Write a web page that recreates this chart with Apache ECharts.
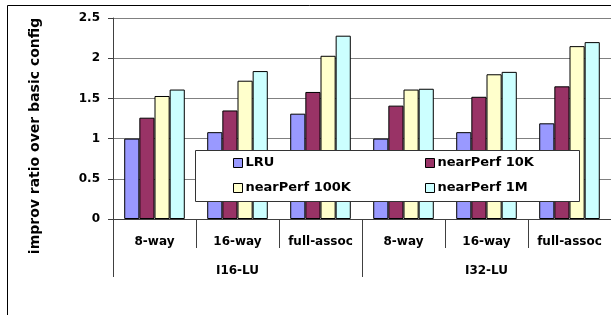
<!DOCTYPE html>
<html>
<head>
<meta charset="utf-8">
<script src="https://cdn.jsdelivr.net/npm/echarts@6/dist/echarts.min.js"></script>
<style>html,body{margin:0;padding:0;background:#fff}#c{width:611px;height:315px}</style>
</head>
<body>
<div id="c"></div>
<script>
var subCategories = ['8-way', '16-way', 'full-assoc', '8-way', '16-way', 'full-assoc'];
var groups = ['I16-LU', 'I32-LU'];
var seriesNames = ['LRU', 'nearPerf 10K', 'nearPerf 100K', 'nearPerf 1M'];
var lru = [1.0, 1.08, 1.31, 1.0, 1.08, 1.19];
var near10k = [1.26, 1.35, 1.58, 1.41, 1.52, 1.65];
var near100k = [1.53, 1.72, 2.03, 1.61, 1.80, 2.15];
var near1m = [1.61, 1.84, 2.28, 1.62, 1.83, 2.20];
var yTicks = [0, 0.5, 1, 1.5, 2, 2.5];
var yTitle = 'improv ratio over basic config';
var colors = ['#9999FF', '#993366', '#FFFFCC', '#CCFFFF'];

var FONT = 'DejaVu Sans';
var chart = echarts.init(document.getElementById('c'), null, {renderer: 'canvas'});
var values = [lru, near10k, near100k, near1m];
var series = seriesNames.map(function (n, i) {
  return {
    name: n, type: 'bar', xAxisIndex: 0, data: values[i],
    barGap: '0%', barCategoryGap: '27%',
    itemStyle: {color: colors[i], borderColor: '#000', borderWidth: 1},
    animation: false
  };
});
chart.setOption({
  animation: false,
  grid: {left: 113, top: 18, right: -2, bottom: 96, containLabel: false},
  xAxis: [{
    type: 'category', data: subCategories, position: 'bottom',
    axisLine: {show: true, lineStyle: {color: '#404040', width: 1}},
    axisTick: {show: true, length: 29, interval: 0, lineStyle: {color: '#404040'}},
    axisLabel: {interval: 0, margin: 17, color: '#000', fontFamily: FONT, fontWeight: 'bold', fontSize: 12}
  }, {
    type: 'category', data: groups, position: 'bottom',
    axisLine: {show: false},
    axisTick: {show: true, length: 58, interval: 0, lineStyle: {color: '#404040'}},
    axisLabel: {interval: 0, margin: 46, color: '#000', fontFamily: FONT, fontWeight: 'bold', fontSize: 12}
  }],
  yAxis: {
    type: 'value', min: yTicks[0], max: yTicks[yTicks.length - 1], interval: 0.5,
    axisLine: {show: true, lineStyle: {color: '#404040', width: 1}},
    axisTick: {show: true, length: 5, lineStyle: {color: '#404040'}},
    axisLabel: {margin: 13, color: '#000', fontFamily: FONT, fontWeight: 'bold', fontSize: 12,
      formatter: function (v) { return String(v); }},
    splitLine: {show: true, lineStyle: {color: '#808080', width: 1}}
  },
  legend: [{
    data: [seriesNames[0], seriesNames[2]], orient: 'vertical', left: 233, top: 156, padding: 0,
    itemGap: 11, itemWidth: 9, itemHeight: 9, icon: 'rect', z: 10,
    itemStyle: {borderColor: '#000', borderWidth: 1},
    textStyle: {color: '#000', fontFamily: FONT, fontWeight: 'bold', fontSize: 13, lineHeight: 14, padding: [0, 0, 0, -2]}
  }, {
    data: [seriesNames[1], seriesNames[3]], orient: 'vertical', left: 425, top: 156, padding: 0,
    itemGap: 11, itemWidth: 9, itemHeight: 9, icon: 'rect', z: 10,
    itemStyle: {borderColor: '#000', borderWidth: 1},
    textStyle: {color: '#000', fontFamily: FONT, fontWeight: 'bold', fontSize: 13, lineHeight: 14, padding: [0, 0, 0, -2]}
  }],
  graphic: [{
    type: 'rect', z: -10, silent: true,
    shape: {x: 7.5, y: 5.5, width: 700, height: 400},
    style: {fill: 'none', stroke: '#000', lineWidth: 1}
  }, {
    type: 'rect', z: 5, silent: true,
    shape: {x: 195.5, y: 150.5, width: 384, height: 51},
    style: {fill: '#fff', stroke: '#333', lineWidth: 1}
  }, {
    type: 'text', z: 5, silent: true, x: 35, y: 136, rotation: Math.PI / 2,
    style: {text: yTitle, fill: '#000', font: 'bold 14px "DejaVu Sans"', align: 'center', verticalAlign: 'middle'}
  }],
  series: series
});
</script>
</body>
</html>
